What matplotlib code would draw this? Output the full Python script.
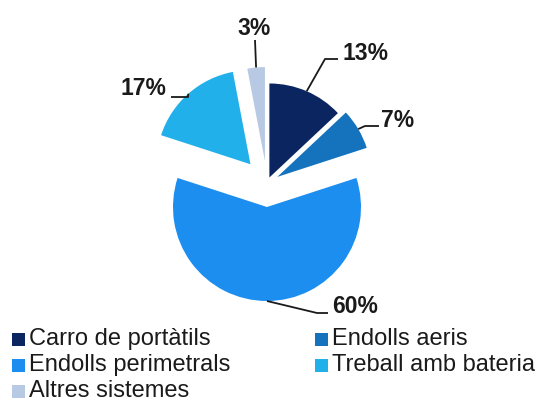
import math

import matplotlib

matplotlib.use("Agg")
import matplotlib.pyplot as plt
from matplotlib.patches import Rectangle

categories = [
    "Carro de portàtils",
    "Endolls aeris",
    "Endolls perimetrals",
    "Treball amb bateria",
    "Altres sistemes",
]
shares = [13, 7, 60, 17, 3]
pct_labels = ["13%", "7%", "60%", "17%", "3%"]

colors = ["#0b2560", "#1573bd", "#1b8ef0", "#22b0ea", "#b7c9e3"]
explode = [6, 12, 24, 25, 22]  # pixels

# label text (x, baseline) and leader elbow points, in pixels
label_pos = [(365, 60), (398, 127), (355, 313), (143, 95), (254, 35)]
elbows = [
    [(325, 59), (338, 59)],
    [(365, 126), (379, 126)],
    [(317, 313), (328, 313)],
    [(188, 97), (171, 97)],
    [(255, 40)],
]

plt.rcParams["font.family"] = ["Liberation Sans", "DejaVu Sans"]

fig = plt.figure(figsize=(5.45, 4.01), dpi=100)
ax = fig.add_axes([0, 0, 1, 1])

wedges, _ = ax.pie(
    shares,
    colors=colors,
    explode=explode,
    radius=94,
    center=(267, 183),
    startangle=-90,
    counterclock=True,
    wedgeprops={"linewidth": 0},
)
ax.set_xlim(0, 545)
ax.set_ylim(401, 0)
ax.set_aspect("equal")
ax.axis("off")

for w, text, (tx, ty), pts in zip(wedges, pct_labels, label_pos, elbows):
    mid = math.radians((w.theta1 + w.theta2) / 2)
    cx, cy = w.center
    start = (cx + w.r * math.cos(mid), cy + w.r * math.sin(mid))
    xs = [start[0]] + [p[0] for p in pts]
    ys = [start[1]] + [p[1] for p in pts]
    ax.plot(xs, ys, color="#1a1a1a", lw=1.3, solid_capstyle="butt")
    ax.text(tx, ty, text, ha="center", va="baseline", fontsize=16.5,
            fontweight="bold", color="#1a1a1a")

# legend, filled row by row
for i, (name, col) in enumerate(zip(categories, colors)):
    row, column = divmod(i, 2)
    x0 = 12 if column == 0 else 315
    yc = 339 + row * 26
    ax.add_patch(Rectangle((x0, yc - 6.5), 13, 13, color=col, lw=0))
    ax.text(x0 + 17, yc, name, ha="left", va="center", fontsize=17,
            color="#1a1a1a")

fig.savefig("out.png", dpi=100)
